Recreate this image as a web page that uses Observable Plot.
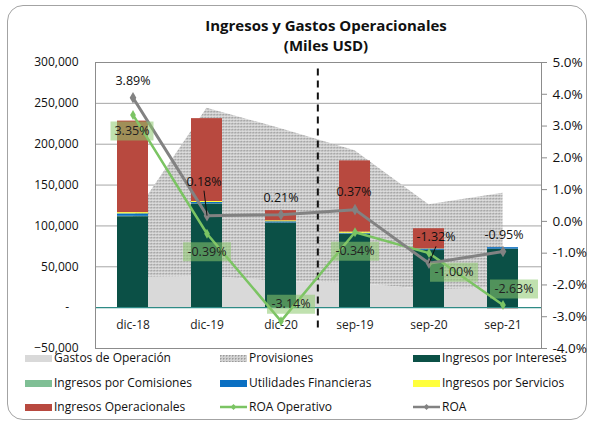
<!DOCTYPE html>
<html><head><meta charset="utf-8">
<script src="https://cdn.jsdelivr.net/npm/d3@7"></script>
<script src="https://cdn.jsdelivr.net/npm/@observablehq/plot@0.6"></script>
<style>
html,body{margin:0;padding:0;background:#fff;}
#wrap{position:relative;width:592px;height:424px;overflow:hidden;font-family:"Open Sans",sans-serif;color:#111;}
#frame{position:absolute;left:7px;top:5px;width:580px;height:415px;border:1.5px solid #a3a3a3;border-radius:16px;box-sizing:border-box;}
#title{position:absolute;left:0;width:652px;top:15px;text-align:center;font-weight:bold;font-size:15px;line-height:20px;}
#chart{position:absolute;left:0;top:0;}
.lg{position:absolute;font-size:12px;line-height:14px;white-space:nowrap;display:flex;align-items:center;}
.sw{display:inline-block;width:27px;height:7px;margin-right:2px;}
</style></head>
<body><div id="wrap"><div id="frame"></div><div id="title">Ingresos y Gastos Operacionales<br>(Miles USD)</div><div id="chart"></div><div id="legend"></div></div>
<script>
// ---- data ----
const categories = ["dic-18","dic-19","dic-20","sep-19","sep-20","sep-21"];
const ingresosIntereses     = [111300, 126800, 103300, 89900, 69900, 71600];
const ingresosComisiones    = [500, 300, 300, 300, 300, 0];
const utilidadesFinancieras = [3000, 1600, 1500, 800, 1500, 1800];
const ingresosServicios     = [1500, 1200, 1200, 1500, 300, 0];
const ingresosOperacionales = [112000, 101400, 12400, 87100, 24600, -1500];
const gastosOperacion       = [37000, 38000, 32000, 30000, 22000, 24000];
const provisiones           = [73000, 206000, 187000, 162000, 104000, 116000];
const roa                   = [3.89, 0.18, 0.21, 0.37, -1.32, -0.95];
const roaOperativo          = [3.35, -0.39, -3.14, -0.34, -1.00, -2.63];
const leftTicks  = [-50000, 0, 50000, 100000, 150000, 200000, 250000, 300000];
const rightTicks = [-4, -3, -2, -1, 0, 1, 2, 3, 4, 5];

const barSeries = ["Ingresos por Intereses","Ingresos por Comisiones","Utilidades Financieras","Ingresos por Servicios","Ingresos Operacionales"];
const barColors = ["#0b5046","#7fbf95","#0a6fc2","#ffff3c","#b8493f"];
const barValues = [ingresosIntereses, ingresosComisiones, utilidadesFinancieras, ingresosServicios, ingresosOperacionales];

// ---- layout ----
const W = 592, H = 424, mL = 95, mR = 51, mT = 62, mB = 76;
const step = (W - mL - mR) / categories.length;
const toLeft = p => -50000 + (p + 4) / 9 * 350000;
const fromLeft = v => Math.round(((v + 50000) / 350000 * 9 - 4) * 10) / 10 + 0;

const bars = barSeries.flatMap((s, k) => categories.map((c, i) => ({cat: c, series: s, value: barValues[k][i]})));
const areaRows = categories.map((c, i) => ({cat: c, gastos: gastosOperacion[i], total: gastosOperacion[i] + provisiones[i]}));
const lineRows = categories.map((c, i) => ({cat: c, roa: toLeft(roa[i]), roaOp: toLeft(roaOperativo[i]), roaTxt: roa[i].toFixed(2) + "%", opTxt: roaOperativo[i].toFixed(2) + "%"}));

// label offsets (px) for each category
const roaOff = [[0,-17],[-3,-34],[0,-17],[-1,-18],[7,-26],[1,-17]];
const opOff  = [[-1,16],[0,18],[10,-17],[0,19],[25,19],[11,-16]];
// leader lines (px, from point) for labels placed away from their point
const leaders = {1: [-3, -25], 4: [7, -17]};

const boxSymbol = w => ({draw(ctx){ ctx.moveTo(-w/2,-9.5); ctx.lineTo(w/2,-9.5); ctx.lineTo(w/2,9.5); ctx.lineTo(-w/2,9.5); ctx.closePath(); }});
const leaderSymbol = ([lx, ly]) => ({draw(ctx){ ctx.moveTo(0,0); ctx.lineTo(lx, ly); }});

const labelMarks = [];
lineRows.forEach((d, i) => {
  if (leaders[i]) labelMarks.push(Plot.dot([d], {x: "cat", y: "roa", symbol: leaderSymbol(leaders[i]), stroke: "#111", strokeWidth: 1, fill: "none"}));
  labelMarks.push(Plot.dot([d], {x: "cat", y: "roaOp", dx: opOff[i][0], dy: opOff[i][1], symbol: boxSymbol(d.opTxt.length > 5 ? 48 : 43), fill: "#8cc86e", fillOpacity: 0.55, stroke: "none"}));
  labelMarks.push(Plot.text([d], {x: "cat", y: "roaOp", text: "opTxt", dx: opOff[i][0], dy: opOff[i][1], fontSize: 12.5, fill: "#222"}));
  labelMarks.push(Plot.text([d], {x: "cat", y: "roa", text: "roaTxt", dx: roaOff[i][0], dy: roaOff[i][1], fontSize: 12.5, fill: "#111"}));
});

const plot = Plot.plot({
  width: W, height: H,
  marginTop: mT, marginBottom: mB, marginLeft: mL, marginRight: mR,
  style: {fontFamily: "Open Sans, sans-serif", fontSize: "12px", background: "transparent", overflow: "visible", color: "#111"},
  x: {domain: categories, type: "band", paddingInner: 0.58, paddingOuter: 0.29, axis: null},
  y: {domain: [-50000, 300000], axis: null},
  color: {domain: barSeries, range: barColors},
  marks: [
    Plot.gridY(leftTicks.filter(v => v > 0), {stroke: "#a6a6a6", strokeOpacity: 1}),
    Plot.areaY(areaRows, {x: "cat", y1: 0, y2: "gastos", fill: "#d9d9d9"}),
    Plot.areaY(areaRows, {x: "cat", y1: "gastos", y2: "total", fill: "#bababa"}),
    Plot.barY(bars, Plot.stackY({x: "cat", y: "value", fill: "series", order: barSeries})),
    Plot.ruleY([0], {stroke: "#2e8b86", strokeWidth: 1.3}),
    Plot.frame({stroke: "#8c8c8c"}),
    Plot.ruleX([categories[3]], {y1: -25000, y2: 295000, dx: -step / 2, stroke: "#111", strokeWidth: 2, strokeDasharray: "7,5"}),
    Plot.axisY(leftTicks, {anchor: "left", tickSize: 0, tickPadding: 17, fontSize: 12, label: null,
      tickFormat: v => v === 0 ? "-\u00a0\u00a0\u00a0" : d3.format(",")(v)}),
    Plot.axisY(rightTicks.map(toLeft), {anchor: "right", tickSize: 5, tickPadding: 6, fontSize: 13.5, label: null, stroke: "#8c8c8c",
      tickFormat: v => fromLeft(v).toFixed(1) + "%"}),
    Plot.text(categories, {x: d => d, y: 0, dy: 18, fontSize: 12, fill: "#222"}),
    Plot.line(lineRows, {x: "cat", y: "roaOp", stroke: "#7bc463", strokeWidth: 2.5}),
    Plot.dot(lineRows, {x: "cat", y: "roaOp", symbol: "diamond", r: 3, fill: "#7bc463"}),
    Plot.line(lineRows, {x: "cat", y: "roa", stroke: "#828282", strokeWidth: 3}),
    Plot.dot(lineRows, {x: "cat", y: "roa", symbol: "diamond", r: 3.5, fill: "#828282"}),
    ...labelMarks
  ]
});

plot.insertAdjacentHTML("afterbegin",
  '<defs><pattern id="dots" width="3" height="3" patternUnits="userSpaceOnUse">' +
  '<rect width="3" height="3" fill="#d2d2d2"/><rect x="0" y="0" width="1" height="1" fill="#9a9a9a"/>' +
  '<rect x="1" y="0" width="1" height="1" fill="#b4b4b4"/><rect x="0" y="1" width="1" height="1" fill="#b4b4b4"/>' +
  '<rect x="2" y="2" width="1" height="1" fill="#e6e6e6"/></pattern></defs>');
plot.querySelectorAll('[fill="#bababa"]').forEach(el => el.setAttribute("fill", "url(#dots)"));
document.getElementById("chart").appendChild(plot);

// ---- legend ----
const legendItems = [
  {name: "Gastos de Operación", kind: "rect", color: "#d9d9d9"},
  {name: "Provisiones", kind: "dots"},
  {name: "Ingresos por Intereses", kind: "rect", color: barColors[0]},
  {name: "Ingresos por Comisiones", kind: "rect", color: barColors[1]},
  {name: "Utilidades Financieras", kind: "rect", color: barColors[2]},
  {name: "Ingresos por Servicios", kind: "rect", color: barColors[3]},
  {name: "Ingresos Operacionales", kind: "rect", color: barColors[4]},
  {name: "ROA Operativo", kind: "line", color: "#7bc463"},
  {name: "ROA", kind: "line", color: "#828282"}
];
const colX = [25, 220, 413], rowY = [358, 383, 407];
const lg = document.getElementById("legend");
legendItems.forEach((it, i) => {
  const el = document.createElement("div");
  el.className = "lg";
  el.style.left = colX[i % 3] + "px";
  el.style.top = (rowY[Math.floor(i / 3)] - 7) + "px";
  let sw;
  if (it.kind === "line") {
    sw = `<svg width="27" height="8" style="margin-right:2px"><line x1="0" y1="4" x2="27" y2="4" stroke="${it.color}" stroke-width="2.5"/><path d="M13.5,1 L16.5,4 L13.5,7 L10.5,4Z" fill="${it.color}"/></svg>`;
  } else if (it.kind === "dots") {
    sw = `<svg width="27" height="7" style="margin-right:2px"><defs><pattern id="dl" width="3" height="3" patternUnits="userSpaceOnUse"><rect width="3" height="3" fill="#d2d2d2"/><rect width="1" height="1" fill="#9a9a9a"/><rect x="1" width="1" height="1" fill="#b4b4b4"/><rect y="1" width="1" height="1" fill="#b4b4b4"/></pattern></defs><rect width="27" height="7" fill="url(#dl)"/></svg>`;
  } else {
    sw = `<span class="sw" style="background:${it.color}"></span>`;
  }
  el.innerHTML = sw + "<span>" + it.name + "</span>";
  lg.appendChild(el);
});
</script></body></html>
